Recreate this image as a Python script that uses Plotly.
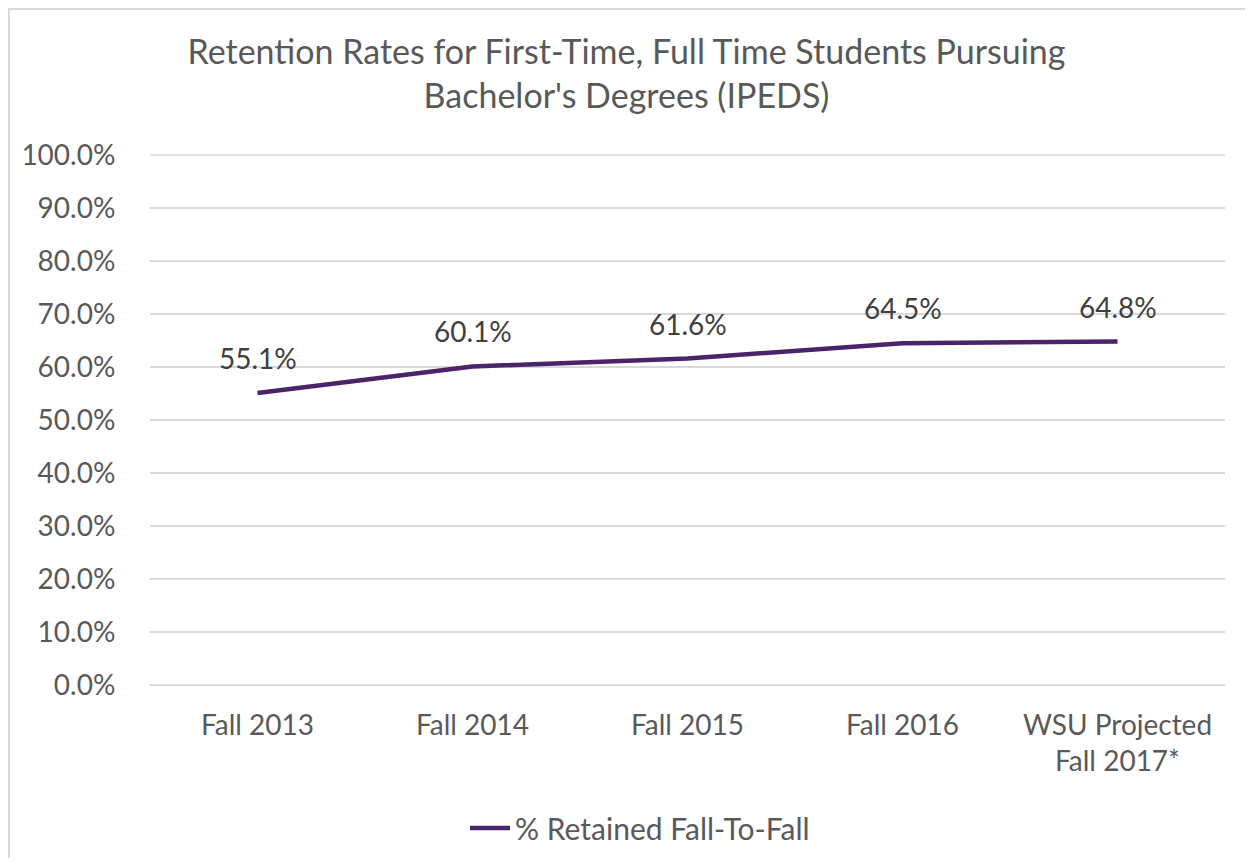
import plotly.graph_objects as go

categories = ["Fall 2013", "Fall 2014", "Fall 2015", "Fall 2016", "WSU Projected<br>Fall 2017*"]
retained = [0.551, 0.601, 0.616, 0.645, 0.648]
series_name = "% Retained Fall-To-Fall"
title_text = "Retention Rates for First-Time, Full Time Students Pursuing<br>Bachelor's Degrees (IPEDS)"

OFF = 8  # browser body margin
W, H = 1253 - 2 * OFF, 866 - 2 * OFF
L, R, T, B = 150 - OFF, 1225 - OFF, 155 - OFF, 685 - OFF

def px(x):
    return (x - OFF - L) / (R - L)

def py(y):
    return (B - (y - OFF)) / (B - T)

FONT = "Lato, 'Open Sans', sans-serif"
TXT = "#595959"

fig = go.Figure()
fig.add_trace(go.Scatter(
    x=list(range(len(categories))),
    y=retained,
    mode="lines",
    name=series_name,
    line=dict(color="#4B2367", width=4.5),
    cliponaxis=False,
))

for i, v in enumerate(retained):
    fig.add_annotation(x=i, y=v, xref="x", yref="y", text=f"{v*100:.1f}%",
                       showarrow=False, yshift=35,
                       font=dict(family=FONT, size=28, color="#404040"))

fig.update_layout(
    width=W, height=H,
    margin=dict(l=L, r=W - R, t=T, b=H - B, autoexpand=False),
    paper_bgcolor="white",
    plot_bgcolor="white",
    font=dict(family=FONT, color=TXT),
    title=dict(text=title_text, x=0.5, xref="container", xanchor="center",
               y=1 - 56 / H, yanchor="top", yref="container",
               font=dict(family=FONT, size=34, color=TXT)),
    showlegend=True,
    legend=dict(orientation="h", x=px(640), xanchor="center",
                y=py(828), yref="paper", yanchor="middle",
                font=dict(family=FONT, size=30, color=TXT),
                itemwidth=40),
    xaxis=dict(
        range=[-0.5, len(categories) - 0.5],
        tickmode="array",
        tickvals=list(range(len(categories))),
        ticktext=categories,
        showgrid=False, zeroline=False, showline=False,
        tickfont=dict(family=FONT, size=28, color=TXT),
        ticks="outside", tickcolor="rgba(0,0,0,0)", ticklen=15,
    ),
    yaxis=dict(
        range=[0, 1.0],
        tickmode="linear", tick0=0, dtick=0.1,
        tickformat=".1%",
        showgrid=True, gridcolor="#D9D9D9", gridwidth=1.5,
        zeroline=True, zerolinecolor="#D9D9D9", zerolinewidth=1.5,
        showline=False,
        tickfont=dict(family=FONT, size=28, color=TXT),
        ticks="outside", tickcolor="rgba(0,0,0,0)", ticklen=28,
    ),
    shapes=[
        dict(type="line", xref="paper", yref="paper",
             x0=px(9), x1=px(9), y0=py(880), y1=py(8),
             line=dict(color="#D9D9D9", width=2), layer="below"),
        dict(type="line", xref="paper", yref="paper",
             x0=px(9), x1=px(1270), y0=py(9), y1=py(9),
             line=dict(color="#D9D9D9", width=2), layer="below"),
        dict(type="line", xref="paper", yref="paper",
             x0=0, x1=1, y0=1, y1=1,
             line=dict(color="#D9D9D9", width=1.5), layer="below"),
    ],
)

fig.write_html("out.html")
